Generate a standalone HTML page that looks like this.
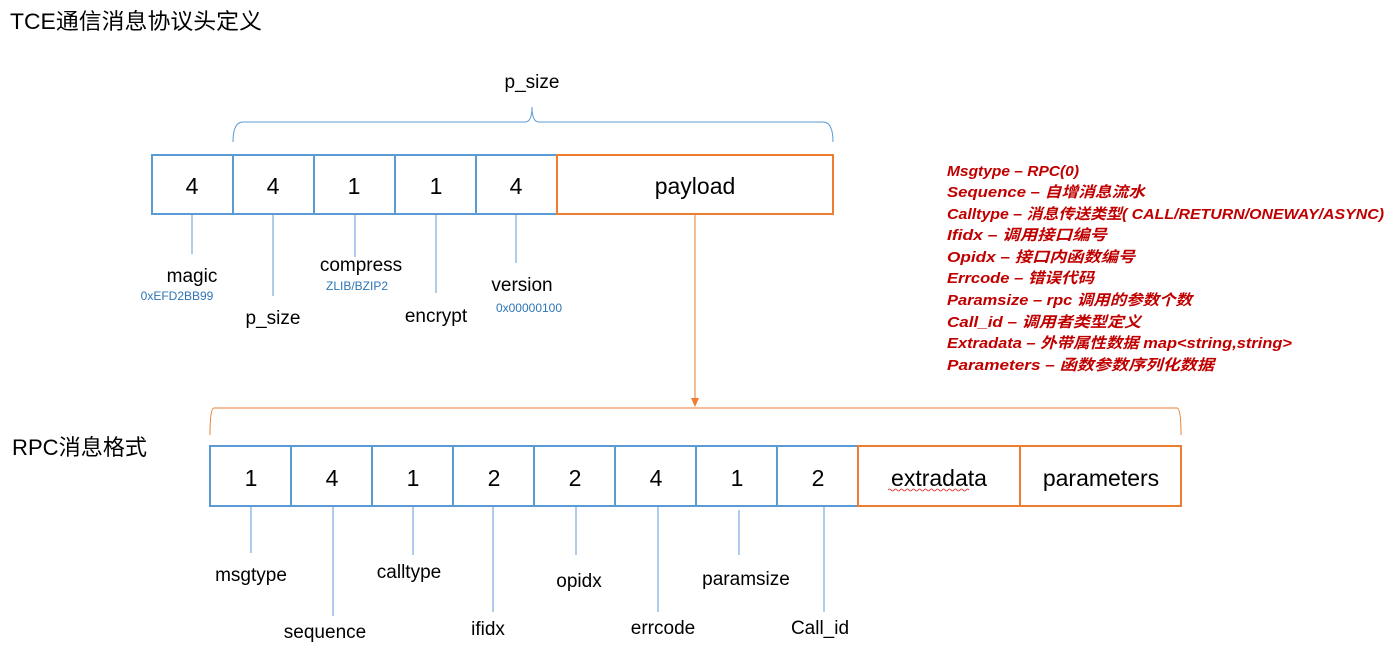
<!DOCTYPE html>
<html><head><meta charset="utf-8"><style>
html,body{margin:0;padding:0;background:#fff;}
svg{display:block;font-family:"Liberation Sans","Noto Sans CJK SC",sans-serif;}
</style></head><body>
<svg width="1399" height="666" viewBox="0 0 1399 666" xmlns="http://www.w3.org/2000/svg">
<text x="10" y="29" font-size="22" textLength="252" lengthAdjust="spacingAndGlyphs" fill="#000">TCE通信消息协议头定义</text>
<text x="12" y="455" font-size="22" textLength="135" lengthAdjust="spacingAndGlyphs" fill="#000">RPC消息格式</text>

<!-- top brace -->
<text x="532" y="88" font-size="19" text-anchor="middle">p_size</text>
<path d="M233,142 Q233,122 243,122 L525,122 Q532,122 532,107 Q532,122 539,122 L823,122 Q833,122 833,142" fill="none" stroke="#5b9bd5" stroke-width="1"/>

<!-- top boxes -->
<g stroke="#5b9bd5" stroke-width="2" fill="none">
<rect x="152" y="155" width="405" height="59"/>
<line x1="233" y1="155" x2="233" y2="214"/><line x1="314" y1="155" x2="314" y2="214"/>
<line x1="395" y1="155" x2="395" y2="214"/><line x1="476" y1="155" x2="476" y2="214"/>
</g>
<rect x="557" y="155" width="276" height="59" fill="none" stroke="#ed7d31" stroke-width="2"/>
<g font-size="23" text-anchor="middle">
<text x="192" y="194">4</text><text x="273" y="194">4</text><text x="354" y="194">1</text>
<text x="436" y="194">1</text><text x="516" y="194">4</text><text x="695" y="194">payload</text>
</g>
<g stroke="#5b9bd5" stroke-width="1">
<line x1="192" y1="214" x2="192" y2="254"/><line x1="273" y1="214" x2="273" y2="296"/>
<line x1="355" y1="214" x2="355" y2="257"/><line x1="436" y1="214" x2="436" y2="293"/>
<line x1="516" y1="214" x2="516" y2="263"/>
</g>
<g font-size="19" text-anchor="middle">
<text x="192" y="282">magic</text><text x="273" y="324">p_size</text>
<text x="361" y="271">compress</text><text x="436" y="322">encrypt</text>
<text x="522" y="291">version</text>
</g>
<g font-size="12" fill="#2e75b6" text-anchor="middle">
<text x="177" y="300">0xEFD2BB99</text><text x="357" y="290">ZLIB/BZIP2</text>
<text x="529" y="312">0x00000100</text>
</g>
<!-- arrow -->
<line x1="695" y1="214" x2="695" y2="400" stroke="#ed7d31" stroke-width="1"/>
<path d="M691,398 L699,398 L695,407 Z" fill="#ed7d31"/>

<!-- orange brace -->
<path d="M210,435 Q210,408 214,408 L1177,408 Q1181,408 1181,435" fill="none" stroke="#ed7d31" stroke-width="1"/>

<!-- bottom boxes -->
<g stroke="#5b9bd5" stroke-width="2" fill="none">
<rect x="210" y="446" width="648" height="60"/>
<line x1="291" y1="446" x2="291" y2="506"/><line x1="372" y1="446" x2="372" y2="506"/>
<line x1="453" y1="446" x2="453" y2="506"/><line x1="534" y1="446" x2="534" y2="506"/>
<line x1="615" y1="446" x2="615" y2="506"/><line x1="696" y1="446" x2="696" y2="506"/>
<line x1="777" y1="446" x2="777" y2="506"/>
</g>
<g stroke="#ed7d31" stroke-width="2" fill="none">
<rect x="858" y="446" width="323" height="60"/>
<line x1="1020" y1="446" x2="1020" y2="506"/>
</g>
<g font-size="23" text-anchor="middle">
<text x="251" y="486">1</text><text x="332" y="486">4</text><text x="413" y="486">1</text>
<text x="494" y="486">2</text><text x="575" y="486">2</text><text x="656" y="486">4</text>
<text x="737" y="486">1</text><text x="818" y="486">2</text>
<text x="939" y="486">extradata</text><text x="1101" y="486">parameters</text>
</g>
<path d="M888,490 q1.5,-2 3,0 t3,0 t3,0 t3,0 t3,0 t3,0 t3,0 t3,0 t3,0 t3,0 t3,0 t3,0 t3,0 t3,0 t3,0 t3,0 t3,0 t3,0 t3,0 t3,0 t3,0 t3,0 t3,0 t3,0 t3,0 t3,0 t3,0" fill="none" stroke="#e02020" stroke-width="0.8"/>
<g stroke="#5b9bd5" stroke-width="1">
<line x1="251" y1="506" x2="251" y2="553"/><line x1="333" y1="506" x2="333" y2="616"/>
<line x1="413" y1="506" x2="413" y2="555"/><line x1="493" y1="506" x2="493" y2="612"/>
<line x1="576" y1="506" x2="576" y2="555"/><line x1="658" y1="506" x2="658" y2="612"/>
<line x1="739" y1="510" x2="739" y2="555"/><line x1="824" y1="506" x2="824" y2="612"/>
</g>
<g font-size="19" text-anchor="middle">
<text x="251" y="581">msgtype</text><text x="325" y="638">sequence</text>
<text x="409" y="578">calltype</text><text x="488" y="635">ifidx</text>
<text x="579" y="587">opidx</text><text x="663" y="634">errcode</text>
<text x="746" y="585">paramsize</text><text x="820" y="634">Call_id</text>
</g>

<!-- legend -->
<g font-size="15" font-weight="bold" font-style="italic" fill="#c00000" lengthAdjust="spacingAndGlyphs">
<text x="947" y="176" textLength="132" lengthAdjust="spacingAndGlyphs">Msgtype – RPC(0)</text>
<text x="947" y="197" textLength="198" lengthAdjust="spacingAndGlyphs">Sequence – 自增消息流水</text>
<text x="947" y="219" textLength="437" lengthAdjust="spacingAndGlyphs">Calltype – 消息传送类型( CALL/RETURN/ONEWAY/ASYNC)</text>
<text x="947" y="240" textLength="160" lengthAdjust="spacingAndGlyphs">Ifidx – 调用接口编号</text>
<text x="947" y="262" textLength="188" lengthAdjust="spacingAndGlyphs">Opidx – 接口内函数编号</text>
<text x="947" y="283" textLength="147" lengthAdjust="spacingAndGlyphs">Errcode – 错误代码</text>
<text x="947" y="305" textLength="245" lengthAdjust="spacingAndGlyphs">Paramsize – rpc 调用的参数个数</text>
<text x="947" y="327" textLength="194" lengthAdjust="spacingAndGlyphs">Call_id – 调用者类型定义</text>
<text x="947" y="348" textLength="345" lengthAdjust="spacingAndGlyphs">Extradata – 外带属性数据 map&lt;string,string&gt;</text>
<text x="947" y="370" textLength="267" lengthAdjust="spacingAndGlyphs">Parameters – 函数参数序列化数据</text>
</g>
</svg>
</body></html>
